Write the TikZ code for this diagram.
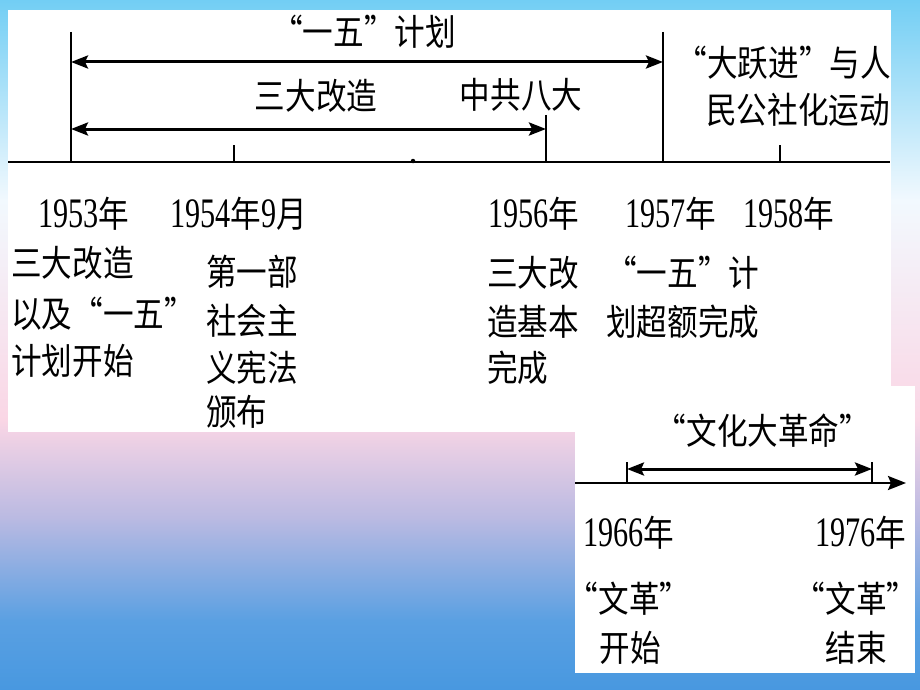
\documentclass[tikz,border=0pt]{standalone}
\usepackage{fontspec}
\setmainfont{Liberation Serif}
\newfontfamily\cjk[FakeStretch=0.85]{Noto Sans CJK SC}
\newfontfamily\lat[FakeStretch=0.72]{Liberation Serif}
\usetikzlibrary{arrows.meta}
\newcommand\Y[1]{{\fontsize{42}{42}\selectfont\lat #1}}
\definecolor{bgA}{HTML}{72CEF4}
\definecolor{bgB}{HTML}{F2F9FE}
\definecolor{bgC}{HTML}{FAD6E5}
\definecolor{bgD}{HTML}{B8B9E2}
\definecolor{bgE}{HTML}{5AA0E2}
\definecolor{bgF}{HTML}{4898E0}
\begin{document}
\begin{tikzpicture}[x=1pt,y=-1pt,
  lbl/.style={inner sep=0pt, font=\fontsize{36}{36}\selectfont\cjk},
  axisline/.style={line width=2.5pt},
  tickline/.style={line width=2pt},
  spanarrow/.style={line width=3pt,
    {Stealth[length=17pt,width=13pt,inset=3pt]}-{Stealth[length=17pt,width=13pt,inset=3pt]}},
  endarrow/.style={line width=2.5pt, -{Stealth[length=18pt,width=14pt,inset=3pt]}}
]
\useasboundingbox (0,0) rectangle (920,690);
% background gradient
\shade[top color=bgA, bottom color=bgB] (0,0) rectangle (920,201);
\shade[top color=bgB, bottom color=bgC] (0,200) rectangle (920,421);
\shade[top color=bgC, bottom color=bgD] (0,420) rectangle (920,521);
\shade[top color=bgD, bottom color=bgE] (0,520) rectangle (920,621);
\shade[top color=bgE, bottom color=bgF] (0,620) rectangle (920,690);
% white panels
\fill[white] (8,10) rectangle (891,432);
\fill[white] (575,386) rectangle (915,673);

% ---- first timeline ----
\coordinate (L) at (8,162);
\coordinate (R) at (890,162);
\draw[axisline] (L) -- (R);
\coordinate (t53a) at (71,32);   \coordinate (t53b) at (71,162);
\coordinate (t54a) at (234,145); \coordinate (t54b) at (234,162);
\coordinate (t56a) at (546,115); \coordinate (t56b) at (546,162);
\coordinate (t57a) at (663,32);  \coordinate (t57b) at (663,162);
\coordinate (t58a) at (780,145); \coordinate (t58b) at (780,162);
\draw[tickline] (t53a) -- (t53b);
\draw[tickline] (t54a) -- (t54b);
\draw[tickline] (t56a) -- (t56b);
\draw[tickline] (t57a) -- (t57b);
\draw[tickline] (t58a) -- (t58b);
\node[circle, fill, inner sep=0pt, minimum size=4.5pt] (dot) at (413,161) {};
\coordinate (s1a) at (71,62);  \coordinate (s1b) at (663,62);
\coordinate (s2a) at (71,129); \coordinate (s2b) at (546,129);
\draw[spanarrow] (s1a) -- (s1b);
\draw[spanarrow] (s2a) -- (s2b);

\node[lbl, anchor=base] (plan) at (364,46) {“一五”计划};
\node[lbl, anchor=base] (gaizao) at (316,110) {三大改造};
\node[lbl, anchor=base] (bada) at (521,109) {中共八大};
\node[lbl, anchor=base east] (dyj1) at (891,77) {“大跃进”与人};
\node[lbl, anchor=base east] (dyj2) at (890,124) {民公社化运动};

\node[lbl, anchor=base west] (y53) at (38,227) {\Y{1953}年};
\node[lbl, anchor=base west] (y54) at (170,227) {\Y{1954}年\Y{9}月};
\node[lbl, anchor=base west] (y56) at (488,227) {\Y{1956}年};
\node[lbl, anchor=base west] (y57) at (625,227) {\Y{1957}年};
\node[lbl, anchor=base west] (y58) at (743,227) {\Y{1958}年};

\node[lbl, anchor=base west] (c1a) at (11,276) {三大改造};
\node[lbl, anchor=base west] (c1b) at (11,327) {以及“一五”};
\node[lbl, anchor=base west] (c1c) at (11,374) {计划开始};

\node[lbl, anchor=base west] (c2a) at (206,285) {第一部};
\node[lbl, anchor=base west] (c2b) at (206,334) {社会主};
\node[lbl, anchor=base west] (c2c) at (206,381) {义宪法};
\node[lbl, anchor=base west] (c2d) at (206,425) {颁布};

\node[lbl, anchor=base west] (c3a) at (487,286) {三大改};
\node[lbl, anchor=base west] (c3b) at (487,335) {造基本};
\node[lbl, anchor=base west] (c3c) at (487,381) {完成};

\node[lbl, anchor=base west] (c4a) at (606,286) {“一五”计};
\node[lbl, anchor=base west] (c4b) at (606,335) {划超额完成};

% ---- second timeline ----
\coordinate (L2) at (575,483);
\coordinate (R2) at (906,483);
\draw[endarrow] (L2) -- (R2);
\coordinate (t66a) at (627,462); \coordinate (t66b) at (627,483);
\coordinate (t76a) at (872,462); \coordinate (t76b) at (872,483);
\draw[tickline] (t66a) -- (t66b);
\draw[tickline] (t76a) -- (t76b);
\coordinate (s3a) at (627,469); \coordinate (s3b) at (872,469);
\draw[spanarrow] (s3a) -- (s3b);

\node[lbl, anchor=base] (wg) at (763,444) {“文化大革命”};
\node[lbl, anchor=base west] (y66) at (583,546) {\Y{1966}年};
\node[lbl, anchor=base west] (y76) at (815,546) {\Y{1976}年};
\node[lbl, anchor=base] (wg1) at (629,612) {“文革”};
\node[lbl, anchor=base] (wg2) at (630,661) {开始};
\node[lbl, anchor=base] (wg3) at (856,612) {“文革”};
\node[lbl, anchor=base] (wg4) at (856,661) {结束};
\end{tikzpicture}
\end{document}
